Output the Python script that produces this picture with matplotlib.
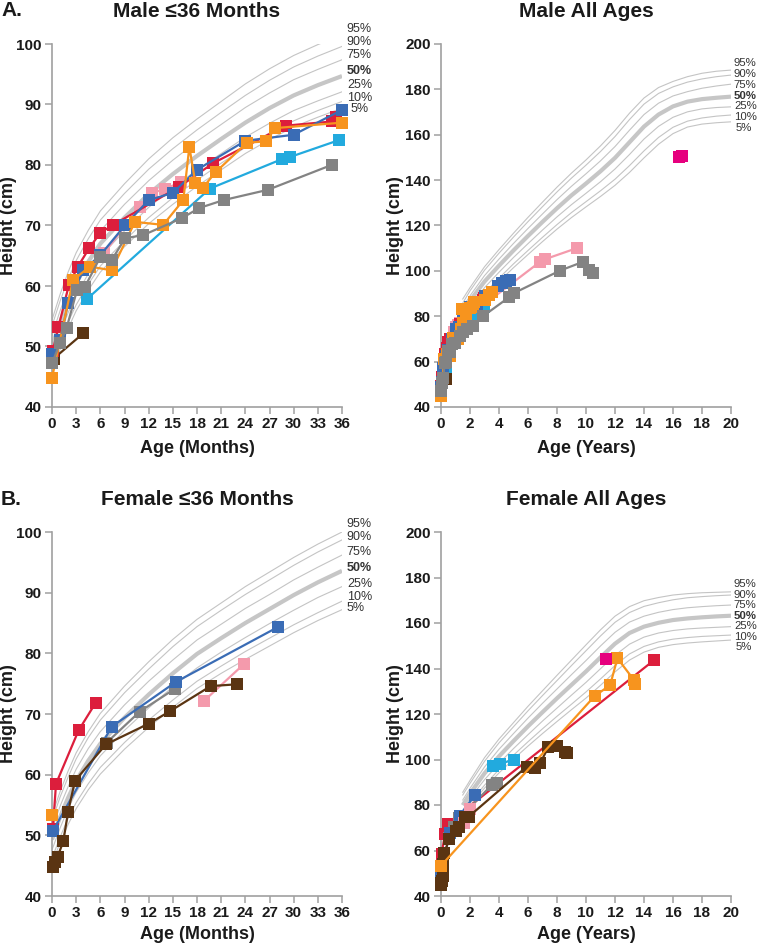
import matplotlib
matplotlib.use("Agg")
import matplotlib.pyplot as plt

plt.rcParams['font.family'] = ['Liberation Sans', 'DejaVu Sans']

# ---------------- percentile reference curves ----------------
pct_names = ['95%', '90%', '75%', '50%', '25%', '10%', '5%']

pct_mon = [0, 1, 2, 3, 4.5, 6, 9, 12, 15, 18, 21, 24, 27, 30, 33, 36]
m36_p95 = [54.4, 58.6, 62.3, 65.5, 69.2, 72.4, 76.9, 81.0, 84.5, 87.6, 90.5, 93.4, 95.9, 98.1, 99.9, 101.5]
m36_p90 = [53.4, 57.5, 61.1, 64.2, 67.8, 70.9, 75.3, 79.3, 82.7, 85.8, 88.7, 91.5, 94.0, 96.2, 98.0, 99.6]
m36_p75 = [51.8, 55.9, 59.4, 62.5, 66.0, 69.1, 73.5, 77.4, 80.8, 83.9, 86.7, 89.5, 91.9, 94.1, 95.8, 97.4]
m36_p50 = [50.0, 54.0, 57.5, 60.5, 64.0, 67.0, 71.3, 75.2, 78.5, 81.5, 84.3, 87.0, 89.4, 91.5, 93.2, 94.7]
m36_p25 = [48.2, 52.1, 55.6, 58.5, 62.0, 64.9, 69.1, 73.0, 76.2, 79.2, 81.9, 84.6, 86.9, 89.0, 90.6, 92.1]
m36_p10 = [46.6, 50.5, 54.0, 56.9, 60.3, 63.3, 67.5, 71.3, 74.6, 77.5, 80.3, 82.9, 85.3, 87.3, 89.0, 90.5]
m36_p5 = [45.6, 49.5, 53.0, 55.9, 59.3, 62.3, 66.5, 70.3, 73.5, 76.5, 79.2, 81.9, 84.2, 86.3, 87.9, 89.4]

f36_p95 = [53.3, 57.2, 60.6, 63.6, 67.1, 70.1, 74.6, 78.6, 82.3, 85.6, 88.3, 91.0, 93.4, 95.8, 98.0, 100.0]
f36_p90 = [52.4, 56.3, 59.6, 62.6, 66.1, 69.0, 73.5, 77.4, 81.1, 84.4, 87.1, 89.7, 92.1, 94.5, 96.7, 98.7]
f36_p75 = [51.0, 54.8, 58.0, 60.9, 64.3, 67.1, 71.5, 75.4, 78.9, 82.2, 84.8, 87.4, 89.7, 92.1, 94.2, 96.2]
f36_p50 = [49.3, 53.0, 56.2, 59.0, 62.3, 65.1, 69.4, 73.2, 76.7, 79.9, 82.5, 85.0, 87.3, 89.6, 91.7, 93.6]
f36_p25 = [47.6, 51.2, 54.4, 57.1, 60.3, 63.1, 67.3, 71.0, 74.5, 77.6, 80.2, 82.6, 84.9, 87.1, 89.2, 91.0]
f36_p10 = [46.2, 49.7, 52.8, 55.4, 58.5, 61.2, 65.3, 69.0, 72.3, 75.4, 77.9, 80.3, 82.5, 84.7, 86.7, 88.6]
f36_p5 = [45.3, 48.8, 51.8, 54.4, 57.5, 60.1, 64.2, 67.8, 71.1, 74.2, 76.7, 79.0, 81.2, 83.4, 85.4, 87.2]

pct_yr = [1.5, 2, 3, 4, 5, 6, 7, 8, 9, 10, 11, 12, 13, 14, 15, 16, 17, 18, 19, 20]
mall_p95 = [87.6, 92.6, 101.8, 109.4, 116.6, 123.6, 130.3, 136.9, 143.1, 148.9, 155.1, 161.9, 169.5, 176.2, 180.8, 183.5, 185.6, 187.1, 188.0, 188.5]
mall_p90 = [85.8, 91.2, 100.3, 107.8, 114.9, 121.7, 128.3, 134.8, 140.9, 146.6, 152.6, 159.2, 166.7, 173.5, 178.2, 181.1, 183.2, 184.6, 185.6, 186.3]
mall_p75 = [83.9, 89.0, 97.9, 105.2, 112.1, 118.7, 125.1, 131.4, 137.3, 142.8, 148.5, 154.8, 162.0, 168.9, 173.9, 177.1, 179.0, 180.5, 181.5, 182.3]
mall_p50 = [81.5, 86.8, 95.3, 102.3, 109.0, 115.4, 121.6, 127.6, 133.3, 138.5, 143.9, 149.8, 156.7, 163.6, 168.9, 172.5, 174.6, 175.7, 176.3, 176.8]
mall_p25 = [79.2, 84.6, 92.6, 99.4, 105.9, 112.0, 118.0, 123.8, 129.2, 134.2, 139.3, 144.9, 151.3, 158.1, 163.7, 167.7, 170.1, 171.4, 172.0, 172.3]
mall_p10 = [77.5, 82.7, 90.2, 96.8, 103.1, 109.0, 114.8, 120.4, 125.7, 130.5, 135.3, 140.4, 146.4, 152.9, 158.8, 163.3, 166.0, 167.4, 168.2, 168.7]
mall_p5 = [76.5, 81.4, 88.8, 95.3, 101.4, 107.2, 112.9, 118.4, 123.5, 128.2, 132.8, 137.7, 143.4, 149.8, 155.8, 160.5, 163.4, 164.7, 165.3, 165.7]

fall_p95 = [85.6, 90.8, 100.8, 109.0, 116.2, 123.4, 130.2, 137.0, 143.7, 150.4, 157.0, 163.0, 167.2, 169.8, 171.2, 172.3, 172.9, 173.3, 173.5, 173.7]
fall_p90 = [84.4, 89.5, 99.2, 107.3, 114.4, 121.4, 128.1, 134.7, 141.3, 147.8, 154.3, 160.3, 164.6, 167.3, 168.9, 170.2, 171.1, 171.6, 172.0, 172.3]
fall_p75 = [82.2, 87.3, 96.7, 104.5, 111.4, 118.2, 124.7, 131.0, 137.3, 143.5, 149.9, 155.9, 160.4, 163.0, 164.7, 165.9, 166.7, 167.2, 167.6, 167.9]
fall_p50 = [79.9, 85.0, 93.9, 101.4, 108.1, 114.6, 120.8, 126.9, 132.8, 138.7, 144.9, 150.9, 155.6, 158.4, 160.1, 161.3, 162.0, 162.5, 162.9, 163.2]
fall_p25 = [77.6, 83.0, 91.1, 98.3, 104.8, 110.9, 116.9, 122.6, 128.3, 133.9, 139.9, 145.8, 150.7, 153.8, 155.6, 156.7, 157.4, 157.8, 158.1, 158.4]
fall_p10 = [75.4, 81.0, 88.7, 95.6, 101.9, 107.8, 113.5, 119.0, 124.3, 129.7, 135.4, 141.3, 146.4, 149.7, 151.7, 152.9, 153.6, 154.1, 154.4, 154.7]
fall_p5 = [74.2, 79.9, 87.4, 94.1, 100.2, 105.9, 111.4, 116.7, 121.9, 127.0, 132.6, 138.5, 143.7, 147.2, 149.3, 150.5, 151.2, 151.7, 152.1, 152.5]

# ---------------- patient data (age in months, height in cm) ----------------
m_pink_age = [6.5, 10.9, 12.4, 14.0, 16.0, 82.0, 86.4, 112.3]
m_pink_ht = [65.5, 73.1, 75.4, 76.0, 77.2, 104.0, 105.2, 110.0]
m_brown_age = [0.2, 3.9]
m_brown_ht = [48.0, 52.2]
m_cyan_age = [4.3, 19.6, 28.6, 29.5, 35.6]
m_cyan_ht = [57.8, 76.1, 81.0, 81.3, 84.1]
m_red_age = [0.1, 0.8, 2.1, 3.2, 4.6, 6.0, 7.6, 15.8, 20.0, 29.0, 34.8, 35.3]
m_red_ht = [49.3, 53.2, 60.2, 63.2, 66.2, 68.8, 70.1, 76.4, 80.3, 86.5, 87.2, 88.0]
m_blue_age = [0.0, 1.0, 2.0, 3.9, 6.0, 9.1, 12.0, 15.0, 18.0, 24.0, 30.0, 36.0, 46.8, 50.4, 54.0, 57.0]
m_blue_ht = [48.8, 51.0, 57.2, 62.6, 65.1, 70.1, 74.2, 75.4, 79.2, 84.0, 85.0, 89.1, 93.5, 94.6, 95.4, 96.0]
m_orange_age = [0.0, 2.6, 4.7, 7.4, 10.3, 13.8, 16.3, 17.05, 17.8, 18.7, 20.3, 24.2, 26.6, 27.7, 36.0, 39.6, 42.0]
m_orange_ht = [44.8, 61.0, 63.2, 62.6, 70.6, 70.1, 74.2, 83.0, 77.0, 76.2, 78.8, 83.7, 83.9, 86.1, 87.0, 89.5, 90.6]
m_gray_age = [0.0, 1.0, 1.8, 3.1, 4.1, 6.0, 7.4, 9.1, 11.3, 16.1, 18.3, 21.3, 26.8, 34.7, 56.4, 60.0, 98.4, 117.6, 122.4, 126.0]
m_gray_ht = [47.2, 50.6, 53.0, 59.3, 59.9, 64.8, 64.3, 67.9, 68.4, 71.2, 72.9, 74.2, 75.9, 80.0, 88.4, 90.1, 100.1, 104.0, 100.4, 99.0]
m_mag_age = [196.8, 199.2]
m_mag_ht = [150.0, 150.5]

f_red_age = [0.1, 0.5, 3.3, 5.4, 176.4]
f_red_ht = [51.0, 58.5, 67.3, 71.8, 143.7]
f_gray_age = [6.8, 10.9, 15.3, 42.0, 46.0]
f_gray_ht = [65.3, 70.4, 74.2, 88.8, 89.8]
f_blue_age = [0.1, 7.4, 15.4, 28.0]
f_blue_ht = [50.7, 67.9, 75.3, 84.3]
f_pink_age = [18.9, 23.8]
f_pink_ht = [72.2, 78.2]
f_brown_age = [0.1, 0.4, 0.7, 1.4, 2.0, 2.85, 6.7, 12.0, 14.7, 19.7, 23.0, 70.8, 77.8, 82.0, 88.8, 95.8, 102.6, 104.4]
f_brown_ht = [44.8, 45.6, 46.5, 49.0, 53.9, 59.0, 65.0, 68.4, 70.5, 74.6, 74.9, 96.8, 96.1, 98.3, 105.4, 105.9, 103.4, 102.7]
f_cyan_age = [43.2, 48.6, 60.0]
f_cyan_ht = [97.1, 98.0, 100.0]
f_orange_age = [0.0, 127.2, 140.0, 146.0, 159.6, 160.8]
f_orange_ht = [53.3, 127.9, 132.7, 144.5, 135.0, 133.0]
f_mag_age = [136.8]
f_mag_ht = [144.0]

C = {'red': '#dc1e3c', 'blue': '#3a6cb5', 'pink': '#f49aac', 'gray': '#838383',
     'cyan': '#22aade', 'orange': '#f7941e', 'brown': '#5a3412', 'mag': '#e6007e'}

male_series = [(m_pink_age, m_pink_ht, C['pink']), (m_brown_age, m_brown_ht, C['brown']),
               (m_cyan_age, m_cyan_ht, C['cyan']), (m_red_age, m_red_ht, C['red']),
               (m_blue_age, m_blue_ht, C['blue']), (m_orange_age, m_orange_ht, C['orange']),
               (m_gray_age, m_gray_ht, C['gray']), (m_mag_age, m_mag_ht, C['mag'])]
female_series = [(f_red_age, f_red_ht, C['red']), (f_gray_age, f_gray_ht, C['gray']),
                 (f_blue_age, f_blue_ht, C['blue']), (f_pink_age, f_pink_ht, C['pink']),
                 (f_brown_age, f_brown_ht, C['brown']), (f_cyan_age, f_cyan_ht, C['cyan']),
                 (f_orange_age, f_orange_ht, C['orange']), (f_mag_age, f_mag_ht, C['mag'])]

m36_curves = [m36_p95, m36_p90, m36_p75, m36_p50, m36_p25, m36_p10, m36_p5]
f36_curves = [f36_p95, f36_p90, f36_p75, f36_p50, f36_p25, f36_p10, f36_p5]
mall_curves = [mall_p95, mall_p90, mall_p75, mall_p50, mall_p25, mall_p10, mall_p5]
fall_curves = [fall_p95, fall_p90, fall_p75, fall_p50, fall_p25, fall_p10, fall_p5]

W, H = 759, 946
fig = plt.figure(figsize=(W / 100, H / 100), dpi=100)

SPINE = '#a0a0a0'


def make_ax(left, top, bottom):
    ax = fig.add_axes([left / W, 1 - bottom / H, 290 / W, (bottom - top) / H])
    for s in ['top', 'right']:
        ax.spines[s].set_visible(False)
    for s in ['left', 'bottom']:
        ax.spines[s].set_color(SPINE)
        ax.spines[s].set_linewidth(1.2)
    ax.tick_params(direction='out', length=5, width=1.1, color=SPINE, labelsize=11,
                   pad=2.5, labelcolor='#1a1a1a')
    return ax


def draw_curves(ax, xs, curves):
    for name, ys in zip(pct_names, curves):
        if name == '50%':
            ax.plot(xs, ys, color='#c6c6c6', lw=3.0, zorder=1, solid_capstyle='butt')
        else:
            ax.plot(xs, ys, color='#c4c4c4', lw=0.8, zorder=1)


def draw_labels(ax, x, ys, x5, size):
    for name, y in zip(pct_names, ys):
        ax.text(x5 if name == '5%' else x, y, name, fontsize=size, color='#333333',
                ha='left', va='center', clip_on=False,
                fontweight='bold' if name == '50%' else 'normal')


def draw_series(ax, series, scale, maxage):
    for ages, hts, col in series:
        xs = [a / scale for a, h in zip(ages, hts) if a <= maxage]
        ys = [h for a, h in zip(ages, hts) if a <= maxage]
        if not xs:
            continue
        ax.plot(xs, ys, color=col, lw=1.6, marker='s', markersize=8.3,
                markeredgewidth=0, zorder=3, clip_on=False)


def finish(ax, xmax, xstep, ymin, ymax, ystep):
    ax.set_xlim(0, xmax)
    ax.set_ylim(ymin, ymax)
    ax.set_xticks(range(0, xmax + 1, xstep))
    ax.set_yticks(range(ymin, ymax + 1, ystep))
    for lab in ax.get_xticklabels() + ax.get_yticklabels():
        lab.set_fontweight('bold')


# panel A left
ax1 = make_ax(52, 44, 407)
draw_curves(ax1, pct_mon, m36_curves)
draw_series(ax1, male_series, 1, 36.5)
finish(ax1, 36, 3, 40, 100, 10)
draw_labels(ax1, 36.6, [102.5, 100.4, 98.2, 95.6, 93.2, 91.0, 89.2], 37.1, 9)

# panel A right
ax2 = make_ax(441, 44, 407)
draw_curves(ax2, pct_yr, mall_curves)
draw_series(ax2, male_series, 12, 1e9)
finish(ax2, 20, 2, 40, 200, 20)
draw_labels(ax2, 20.2, [191.5, 186.8, 181.9, 177.2, 172.7, 167.9, 163.1], 20.3, 8.2)

# panel B left
ax3 = make_ax(52, 532, 896)
draw_curves(ax3, pct_mon, f36_curves)
draw_series(ax3, female_series, 1, 36.5)
finish(ax3, 36, 3, 40, 100, 10)
draw_labels(ax3, 36.6, [101.25, 99.2, 96.7, 94.0, 91.5, 89.3, 87.5], 36.6, 9)

# panel B right
ax4 = make_ax(441, 532, 896)
draw_curves(ax4, pct_yr, fall_curves)
draw_series(ax4, female_series, 12, 1e9)
finish(ax4, 20, 2, 40, 200, 20)
draw_labels(ax4, 20.2, [177.1, 172.3, 167.9, 163.2, 158.7, 154.0, 149.3], 20.3, 8.2)


def ftext(x, y, s, **kw):
    fig.text(x / W, 1 - y / H, s, color='#1a1a1a', fontweight='bold', **kw)


# titles and panel letters
ftext(197, 16.7, 'Male \u226436 Months', fontsize=15, ha='center', va='baseline')
ftext(586, 16.7, 'Male All Ages', fontsize=15, ha='center', va='baseline')
ftext(197, 505, 'Female \u226436 Months', fontsize=15, ha='center', va='baseline')
ftext(586, 505, 'Female All Ages', fontsize=15, ha='center', va='baseline')
ftext(1, 16.5, 'A.', fontsize=15, ha='left', va='baseline')
ftext(1, 505, 'B.', fontsize=15, ha='left', va='baseline')

# axis labels
for cx, base, txt in [(197, 453, 'Age (Months)'), (586, 453, 'Age (Years)'),
                      (197, 939, 'Age (Months)'), (586, 939, 'Age (Years)')]:
    ftext(cx, base, txt, fontsize=13, ha='center', va='baseline')
for cx, cy in [(9, 226), (395, 226), (9, 714), (395, 714)]:
    ftext(cx, cy, 'Height (cm)', fontsize=13, ha='center', va='center', rotation=90)

fig.savefig('out.png', dpi=100)
